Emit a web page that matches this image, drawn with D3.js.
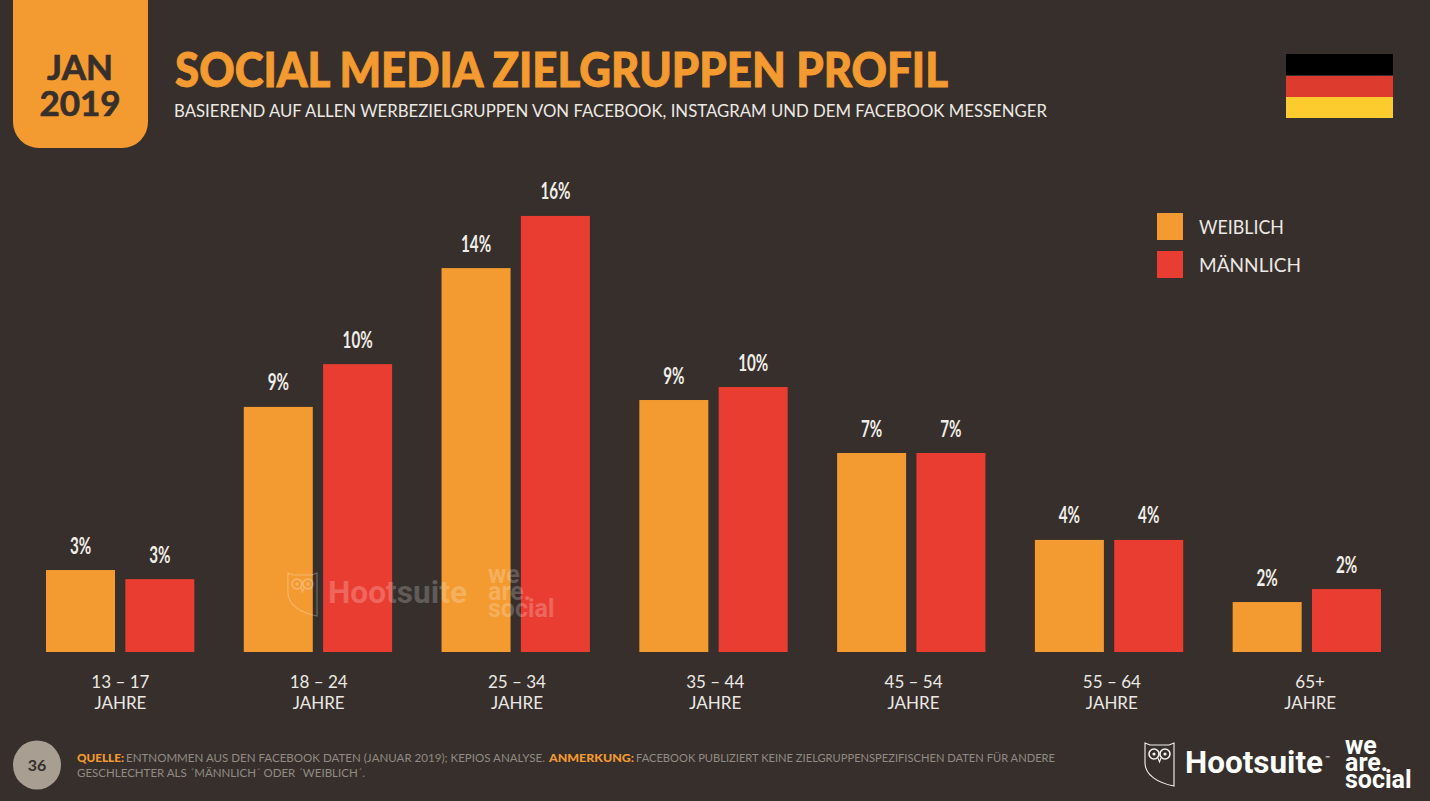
<!DOCTYPE html>
<html lang="de">
<head>
<meta charset="utf-8">
<title>Social Media Zielgruppen Profil</title>
<script src="https://cdn.jsdelivr.net/npm/d3@7/dist/d3.min.js"></script>
<style>
  html, body { margin: 0; padding: 0; background: #362f2b; overflow: hidden; }
  svg { display: block; }
  text { font-family: Lato, "Open Sans", sans-serif; }
</style>
</head>
<body>
<svg id="chart" width="1430" height="801"></svg>
<script>
// Audience shares by age band, in percent
const ageGroups = ["13 – 17", "18 – 24", "25 – 34", "35 – 44", "45 – 54", "55 – 64", "65+"];
const femaleValues = [2.97, 8.88, 13.91, 9.13, 7.21, 4.06, 1.81];
const maleValues = [2.64, 10.43, 15.8, 9.6, 7.21, 4.06, 2.28];
const seriesNames = ["WEIBLICH", "MÄNNLICH"];
const unitLabel = "JAHRE";

const BG = "#362f2b", ORANGE = "#f39a30", RED = "#ea3d31";
const seriesColors = [ORANGE, RED];
const seriesValues = [femaleValues, maleValues];

const svg = d3.select("#chart");
svg.append("rect").attr("width", 1430).attr("height", 801).attr("fill", BG);

// Fits a text run to a known horizontal extent
function fitted(parent, str, x, y, width, size, weight, fill, family) {
  const t = parent.append("text")
    .attr("x", x).attr("y", y)
    .attr("font-size", size).attr("font-weight", weight).attr("fill", fill)
    .attr("textLength", width).attr("lengthAdjust", "spacingAndGlyphs")
    .text(str);
  if (family) t.style("font-family", family);
  return t;
}

// Date tab hanging from the top edge
svg.append("path")
  .attr("d", "M13,0H148V122A26,26 0 0 1 122,148H39A26,26 0 0 1 13,122Z")
  .attr("fill", ORANGE);
svg.append("text").attr("x", 80).attr("y", 80).attr("text-anchor", "middle")
  .attr("font-size", 35).attr("font-weight", 700).attr("fill", BG)
  .attr("stroke", BG).attr("stroke-width", 0.7).text("JAN");
svg.append("text").attr("x", 80).attr("y", 116).attr("text-anchor", "middle")
  .attr("font-size", 35).attr("font-weight", 700).attr("fill", BG)
  .attr("stroke", BG).attr("stroke-width", 0.7).text("2019");

// Headline
fitted(svg, "SOCIAL MEDIA ZIELGRUPPEN PROFIL", 175, 87, 773, 47, 900, ORANGE)
  .attr("stroke", ORANGE).attr("stroke-width", 0.9);
fitted(svg, "BASIEREND AUF ALLEN WERBEZIELGRUPPEN VON FACEBOOK, INSTAGRAM UND DEM FACEBOOK MESSENGER",
  174, 117, 873, 18, 400, "#ece9e5");

// Flag
[["#000000", 54, 21], ["#dd3b2e", 76, 21], ["#fccb2e", 97, 21]].forEach(([c, y, h]) => {
  svg.append("rect").attr("x", 1286).attr("y", y).attr("width", 107).attr("height", h).attr("fill", c);
});

// Scales
const baseline = 652;
const x0 = d3.scaleBand().domain(ageGroups).range([46, 1381]).paddingInner(0.25);
const x1 = d3.scaleBand().domain(seriesNames).range([0, x0.bandwidth()]).paddingInner(0.13);
const xLabels = x0.copy().range([46, 1384.5]);
const y = d3.scaleLinear().domain([0, 16]).range([baseline, baseline - 27.6 * 16]);
const pct = d => d3.format(".0f")(d) + "%";

// Bars and condensed value labels
const groups = svg.append("g").selectAll("g").data(ageGroups).join("g")
  .attr("transform", d => `translate(${x0(d)},0)`);

seriesNames.forEach((name, s) => {
  groups.append("rect")
    .attr("x", x1(name))
    .attr("y", (d, i) => y(seriesValues[s][i]))
    .attr("width", x1.bandwidth())
    .attr("height", (d, i) => baseline - y(seriesValues[s][i]))
    .attr("fill", seriesColors[s]);
  groups.append("text")
    .attr("transform", (d, i) =>
      `translate(${x1(name) + x1.bandwidth() / 2},${y(seriesValues[s][i]) - 16.5}) scale(0.66,1)`)
    .attr("text-anchor", "middle")
    .attr("font-size", 23).attr("font-weight", 700).attr("fill", "#f1eee9")
    .text((d, i) => pct(seriesValues[s][i]));
});

// Category axis with a unit line under each age band
const axis = svg.append("g").attr("transform", `translate(0,${baseline})`)
  .call(d3.axisBottom(xLabels).tickSize(0).tickPadding(0));
axis.select(".domain").remove();
axis.selectAll(".tick text").each(function (d) {
  const t = d3.select(this).text(null).attr("y", 0).attr("dy", null)
    .attr("fill", "#ece9e5").attr("font-size", 17).attr("font-family", null);
  t.append("tspan").attr("x", 0).attr("y", 36).text(d);
  t.append("tspan").attr("x", 0).attr("y", 57).text(unitLabel);
});

// Legend
seriesNames.forEach((name, i) => {
  const top = 213 + i * 38;
  svg.append("rect").attr("x", 1157).attr("y", top).attr("width", 26).attr("height", 27).attr("fill", seriesColors[i]);
  fitted(svg, name, 1199, top + 21, i ? 102 : 85, 19, 400, "#ece9e5");
});

// Owl shield emblem, used for both the watermark and the footer logo
function owl(g, stroke) {
  g.append("path")
    .attr("d", "M0,0L5,2H24L29,0V43C13,40 0,32 0,20Z")
    .attr("fill", "none").attr("stroke", stroke).attr("stroke-width", 1.1);
  [9, 20].forEach(cx => {
    g.append("circle").attr("cx", cx).attr("cy", 11).attr("r", 5)
      .attr("fill", "none").attr("stroke", stroke).attr("stroke-width", 1.6);
    g.append("circle").attr("cx", cx).attr("cy", 11).attr("r", 1.6).attr("fill", stroke);
  });
  g.append("path").attr("d", "M13,15L14.5,19L16,15").attr("fill", "none")
    .attr("stroke", stroke).attr("stroke-width", 1.1);
}

// Stacked brand wordmark, three tight lines in one text block
function brandStack(parent, x, ys, size, fill, opacity) {
  const t = parent.append("text")
    .attr("font-size", size).attr("font-weight", 700).attr("fill", fill).attr("fill-opacity", opacity)
    .style("font-family", "Roboto, sans-serif");
  ["we", "are.", "social"].forEach((w, i) => {
    t.append("tspan").attr("x", x).attr("y", ys[i]).text(w);
  });
}

// Faint watermark across the middle of the plot
const mark = svg.append("g");
const markOwl = mark.append("g").attr("transform", "translate(288,573)").attr("opacity", 0.3);
owl(markOwl, "#ffffff");
fitted(mark, "Hootsuite", 328, 603, 139, 31, 700, "#ffffff", "Roboto, sans-serif").attr("fill-opacity", 0.22);
brandStack(mark, 488, [583, 600, 617], 25, "#ffffff", 0.22);

// Footer
svg.append("ellipse").attr("cx", 37).attr("cy", 765).attr("rx", 24).attr("ry", 24.5).attr("fill", "#a89e92");
svg.append("text").attr("x", 37).attr("y", 771).attr("text-anchor", "middle")
  .attr("font-size", 16).attr("font-weight", 700).attr("fill", BG).text("36");

const noteGrey = "#918b83";
fitted(svg, "QUELLE:", 77, 762, 47, 10.5, 900, ORANGE);
fitted(svg, "ENTNOMMEN AUS DEN FACEBOOK DATEN (JANUAR 2019); KEPIOS ANALYSE.", 126, 762, 419, 10.5, 400, noteGrey);
fitted(svg, "ANMERKUNG:", 549, 762, 85, 10.5, 900, ORANGE);
fitted(svg, "FACEBOOK PUBLIZIERT KEINE ZIELGRUPPENSPEZIFISCHEN DATEN FÜR ANDERE", 636, 762, 419, 10.5, 400, noteGrey);
fitted(svg, "GESCHLECHTER ALS ´MÄNNLICH´ ODER ´WEIBLICH´.", 77, 777, 288, 10.5, 400, noteGrey);

const footerOwl = svg.append("g").attr("transform", "translate(1145,743)");
owl(footerOwl, "#f4f2ef");
fitted(svg, "Hootsuite", 1185, 773, 138, 31, 700, "#ffffff", "Roboto, sans-serif");
svg.append("text").attr("x", 1325).attr("y", 760).attr("font-size", 6).attr("fill", "#ffffff").text("™");
brandStack(svg, 1345, [754, 771, 788], 25, "#ffffff", 1);
</script>
</body>
</html>
